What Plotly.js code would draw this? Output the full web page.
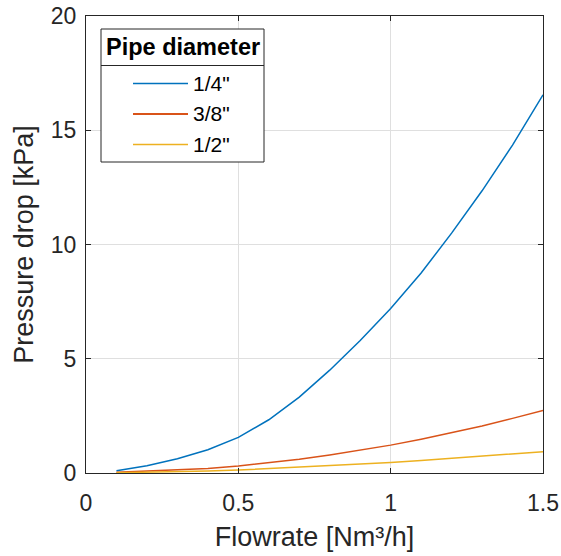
<!DOCTYPE html>
<html>
<head>
<meta charset="utf-8">
<script src="https://cdn.plot.ly/plotly-3.0.1.min.js"></script>
<style>html,body{margin:0;padding:0;background:#fff;}#chart{width:561px;height:556px;}</style>
</head>
<body>
<div id="chart"></div>
<script>
// ---- data ----
const flowrate = [0.1, 0.2, 0.3, 0.4, 0.5, 0.6, 0.7, 0.8, 0.9, 1.0, 1.1, 1.2, 1.3, 1.4, 1.5];
const dp_quarter = [0.1, 0.32, 0.62, 1.02, 1.56, 2.33, 3.32, 4.5, 5.8, 7.2, 8.75, 10.5, 12.35, 14.35, 16.55];
const dp_threeEighth = [0.03, 0.08, 0.13, 0.2, 0.31, 0.44, 0.6, 0.79, 1.0, 1.22, 1.48, 1.76, 2.06, 2.39, 2.74];
const dp_half = [0.01, 0.03, 0.05, 0.09, 0.13, 0.19, 0.25, 0.32, 0.39, 0.46, 0.55, 0.64, 0.73, 0.83, 0.93];
const seriesNames = ['1/4"', '3/8"', '1/2"'];
const seriesValues = [dp_quarter, dp_threeEighth, dp_half];
const seriesColors = ['#0072BD', '#D95319', '#EDB120'];
const legendTitle = 'Pipe diameter';
const xTicks = [0, 0.5, 1, 1.5];
const xTickText = ['0', '0.5', '1', '1.5'];
const yTicks = [0, 5, 10, 15, 20];

// ---- layout geometry ----
const W = 561, H = 556;
const M = {l: 86, r: 18, t: 16, b: 83};
const PW = W - M.l - M.r, PH = H - M.t - M.b;
const px = x => (x - M.l) / PW;
const py = y => (H - M.b - y) / PH;
const FONT = '"Liberation Sans", Arial, Helvetica, sans-serif';
const AX = '#262626';

const traces = seriesValues.map((vals, i) => ({
  x: flowrate, y: vals, type: 'scatter', mode: 'lines',
  name: seriesNames[i], line: {color: seriesColors[i], width: 1.5},
  showlegend: false
}));

// custom legend (MATLAB style with title separator)
const shapes = [
  {type: 'rect', xref: 'paper', yref: 'paper', x0: px(101), x1: px(264), y0: py(29), y1: py(162),
   line: {color: AX, width: 1}, fillcolor: '#ffffff', layer: 'above'},
  {type: 'line', xref: 'paper', yref: 'paper', x0: px(101), x1: px(264), y0: py(65.5), y1: py(65.5),
   line: {color: AX, width: 1}, layer: 'above'}
];
const annotations = [
  {xref: 'paper', yref: 'paper', x: px(183), y: py(47.5), xanchor: 'center', yanchor: 'middle',
   text: '<b>' + legendTitle + '</b>', showarrow: false, font: {family: FONT, size: 23.5, color: '#000'}}
];
seriesNames.forEach((n, i) => {
  const yy = 83.5 + i * 30.5;
  shapes.push({type: 'line', xref: 'paper', yref: 'paper', x0: px(133), x1: px(188), y0: py(yy), y1: py(yy),
    line: {color: seriesColors[i], width: i === 1 ? 2 : 1.5}, layer: 'above'});
  annotations.push({xref: 'paper', yref: 'paper', x: px(191), y: py(yy), xanchor: 'left', yanchor: 'middle',
    text: n, showarrow: false, font: {family: FONT, size: 21, color: '#000'}});
});

const axisCommon = {
  showline: true, mirror: 'ticks', linecolor: AX, linewidth: 1,
  ticks: 'inside', ticklen: 5, tickcolor: AX, tickwidth: 1,
  showgrid: true, gridcolor: '#dfdfdf', gridwidth: 1, zeroline: false,
  tickfont: {family: FONT, size: 23, color: AX}
};

const layout = {
  width: W, height: H, margin: M,
  paper_bgcolor: '#fff', plot_bgcolor: '#fff',
  showlegend: false,
  xaxis: Object.assign({}, axisCommon, {
    range: [0, 1.5], tickvals: xTicks, ticktext: xTickText, ticklabelstandoff: 9,
    title: {text: 'Flowrate [Nm³/h]', font: {family: FONT, size: 27, color: AX}, standoff: 12}
  }),
  yaxis: Object.assign({}, axisCommon, {
    range: [0, 20], tickvals: yTicks, ticklabelstandoff: 4,
    title: {text: 'Pressure drop [kPa]', font: {family: FONT, size: 27, color: AX}, standoff: 9}
  }),
  shapes: shapes, annotations: annotations
};

Plotly.newPlot('chart', traces, layout, {displayModeBar: false, staticPlot: true});
</script>
</body>
</html>
